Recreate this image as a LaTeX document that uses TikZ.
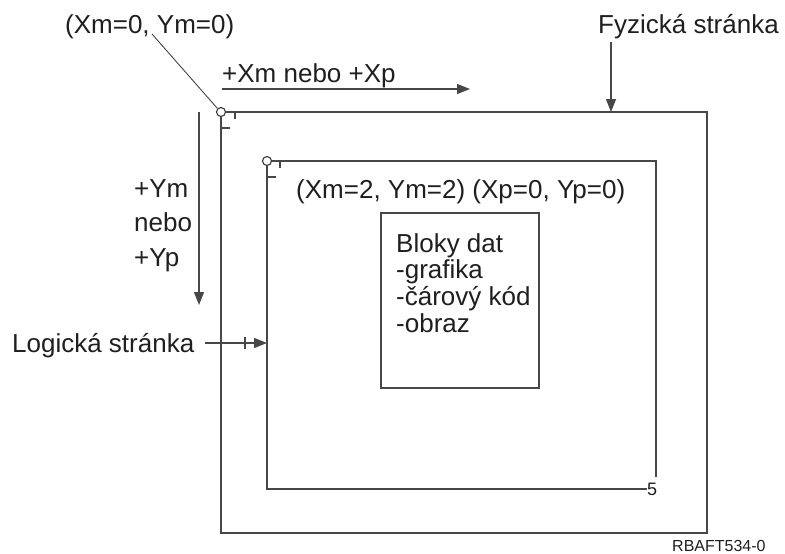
\documentclass[tikz,border=0pt]{standalone}
\usepackage{fontspec}
\setmainfont{Liberation Sans}
\usetikzlibrary{arrows.meta}
\begin{document}
\begin{tikzpicture}[x=1pt,y=-1pt,
  ln/.style={draw=black!72,line width=1.4pt},
  thinln/.style={draw=black!80,line width=0.8pt},
  arr/.style={ln,-{Triangle[length=13pt,width=10pt]}},
  lbl/.style={anchor=base west,inner sep=0,font=\fontsize{26}{27}\selectfont,text=black!88},
  ring/.style={circle,draw=black!78,line width=1.1pt,minimum size=9pt,inner sep=0,fill=white}]
\useasboundingbox (0,0) rectangle (785,554);

% labels
\node[lbl] (org) at (65,33) {(Xm=0, Ym=0)};
\node[lbl] (fyz) at (598,33) {Fyzická stránka};
\node[lbl] (xdir) at (222,82) {+Xm nebo +Xp};
\node[lbl] (y1) at (134,197) {+Ym};
\node[lbl] (y2) at (134,231.5) {nebo};
\node[lbl] (y3) at (134,266) {+Yp};
\node[lbl] (inlbl) at (296,198) {(Xm=2, Ym=2) (Xp=0, Yp=0)};
\node[lbl] (log) at (12,352) {Logická stránka};
\node[anchor=base west,inner sep=0,font=\fontsize{16}{17}\selectfont,text=black!88] (ref) at (672,551) {RBAFT534-0};

% outer (physical) page
\node[ring] (c1) at (221,112) {};
\coordinate (oTR) at (707,112);
\coordinate (oBR) at (707,533);
\coordinate (oBL) at (221,533);
\draw[ln] (c1.east) -- (oTR) -- (oBR) -- (oBL) -- (c1.south);
\draw[ln] (235,112) -- (235,119);
\draw[ln] (221,128) -- (230,128);

% inner (logical) page
\node[ring] (c2) at (267,161) {};
\coordinate (iTR) at (656,161);
\coordinate (iRE) at (656,477);
\coordinate (iBL) at (267,489);
\coordinate (iBE) at (647,489);
\draw[ln] (c2.east) -- (iTR) -- (iRE);
\draw[ln] (c2.south) -- (iBL) -- (iBE);
\draw[ln] (280,161) -- (280,168);
\draw[ln] (267,177) -- (276,177);
\node[anchor=west,inner sep=0,font=\fontsize{18}{19}\selectfont,text=black!88] (five) at (iBE) {5};

% data block
\node[ln,minimum width=158pt,minimum height=175pt,inner sep=0] (data) at (460,300.5) {};
\node[lbl] (b1) at (396,252) {Bloky dat};
\node[lbl] (b2) at (396,278.7) {-grafika};
\node[lbl] (b3) at (396,305.3) {-čárový kód};
\node[lbl] (b4) at (396,332) {-obraz};

% arrows
\coordinate (xa1) at (222,89);
\coordinate (xa2) at (470,89);
\draw[arr] (xa1) -- (xa2);
\coordinate (ya1) at (199,112);
\coordinate (ya2) at (199,305);
\draw[arr] (ya1) -- (ya2);
\coordinate (fa1) at (611,42);
\coordinate (fa2) at (611,112);
\draw[arr] (fa1) -- (fa2);
\coordinate (la1) at (205,343);
\coordinate (la2) at (267,343);
\draw[arr] (la1) -- (la2);
\draw[ln] (245,337) -- (245,349);

% leader to origin
\coordinate (ld) at (152,34);
\draw[thinln] (ld) -- (c1.north west);
\end{tikzpicture}
\end{document}
